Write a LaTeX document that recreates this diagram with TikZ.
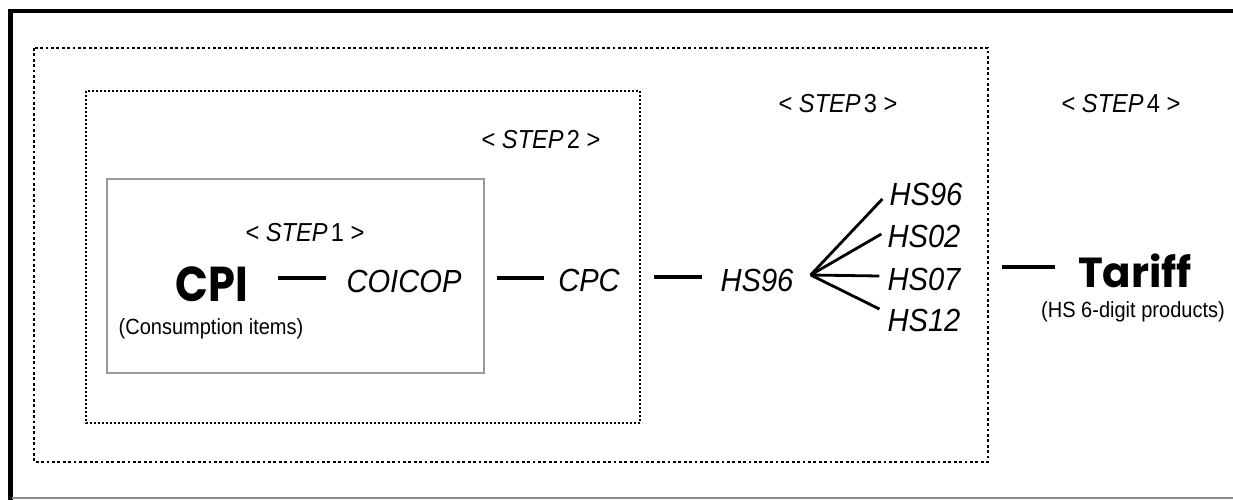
\documentclass[tikz,border=0pt]{standalone}
\usepackage{fontspec}
\usepackage{graphicx}
\setmainfont{Liberation Sans}[FakeStretch=0.91]
\newfontfamily\geofont{Poppins}
\usetikzlibrary{calc}

\begin{document}
\begin{tikzpicture}[x=1pt,y=-1pt,
  every node/.style={inner sep=0pt, text depth=0pt},
  term/.style={font=\fontsize{32}{36}\selectfont\itshape, text height=22.9pt},
  steplabel/.style={font=\fontsize{26}{30}\selectfont, text height=18.6pt},
  note/.style={font=\fontsize{22}{26}\selectfont, text height=15.8pt},
  headline/.style={font=\geofont\bfseries\fontsize{#1}{#1}\selectfont, text height=0.7*#1 pt},
  link/.style={line width=3.4pt},
  fanline/.style={line width=2.8pt},
  outerdots/.style={line width=2.8pt, dash pattern=on 2.8pt off 2.6pt},
  innerdots/.style={line width=2pt, dash pattern=on 2pt off 2pt},
]
% canvas
\fill[white] (0,0) rectangle (1233,500);
\useasboundingbox (0,0) rectangle (1233,500);

% page frame
\draw[line width=4.5pt] (10.5,500) |- (1233,11);
\draw[black!45, line width=2pt] (12,498) -- (1233,498);

% nested step regions
\draw[outerdots] (34,48) rectangle (988,462);
\draw[innerdots] (86,91) rectangle (640,423);
\draw[black!40, line width=1.5pt] (107,179) rectangle (484,373);

% step labels
\node[steplabel] (s1) at (305,232) {< \textit{STEP}\hspace{0.12em}1 >};
\node[steplabel] (s2) at (541,139) {< \textit{STEP}\hspace{0.12em}2 >};
\node[steplabel] (s3) at (838,103) {< \textit{STEP}\hspace{0.12em}3 >};
\node[steplabel] (s4) at (1121,103) {< \textit{STEP}\hspace{0.12em}4 >};

% classification chain
\node[headline=49] (cpi) at (212,284.5) {\scalebox{0.88}[1]{CPI}};
\node[note] (cpinote) at (211,327) {(Consumption items)};
\node[term] (coicop) at (404,281.5) {COICOP};
\node[term] (cpc) at (589,280) {CPC};
\node[term] (hs) at (757,280) {HS96};

\node[term] (hsa) at (926,194) {HS96};
\node[term] (hsb) at (924,236) {HS02};
\node[term] (hsc) at (924,279.5) {HS07};
\node[term] (hsd) at (924,320.5) {HS12};

\node[headline=42] (tariff) at (1135,273) {Tariff};
\node[note] (tariffnote) at (1133,310) {(HS 6-digit products)};

% connectors
\draw[link] ([xshift=30pt,yshift=6.5pt]cpi.east) -- ([xshift=-20pt,yshift=3.5pt]coicop.west);
\draw[link] ([xshift=35pt,yshift=3.5pt]coicop.east) -- ([xshift=-14pt,yshift=2pt]cpc.west);
\draw[link] ([xshift=34pt,yshift=3pt]cpc.east) -- ([xshift=-18pt,yshift=3pt]hs.west);

\coordinate (fan) at ([xshift=17pt,yshift=5pt]hs.east);
\draw[fanline] (fan) -- ([xshift=-7pt,yshift=-5pt]hsa.west);
\draw[fanline] (fan) -- ([xshift=-6pt,yshift=2pt]hsb.west);
\draw[fanline] (fan) -- ([xshift=-8pt,yshift=3.5pt]hsc.west);
\draw[fanline] (fan) -- ([xshift=-8pt,yshift=11.5pt]hsd.west);

\coordinate (tariffin) at (1002,267);
\draw[link] (tariffin) -- ([xshift=-23pt,yshift=6pt]tariff.west);
\end{tikzpicture}
\end{document}
